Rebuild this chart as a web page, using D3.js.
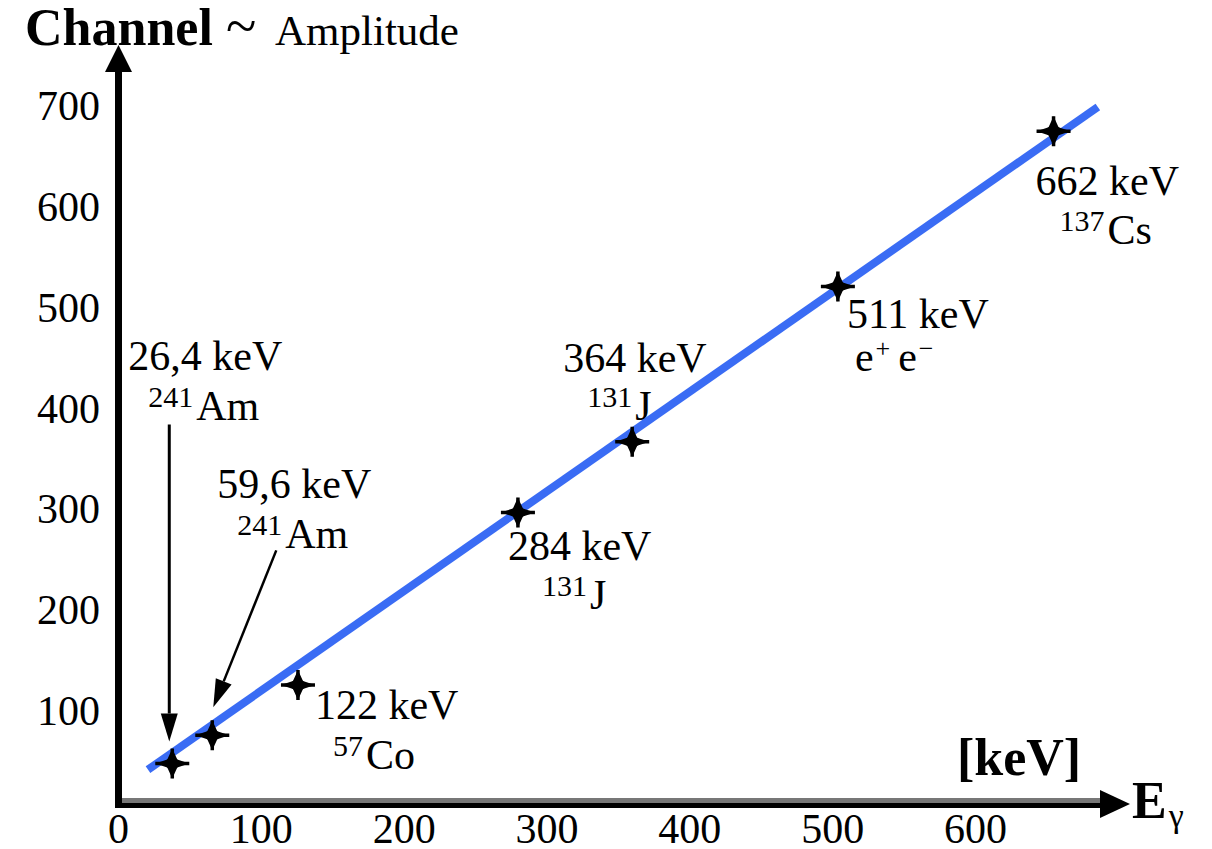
<!DOCTYPE html>
<html>
<head>
<meta charset="utf-8">
<script src="https://cdn.jsdelivr.net/npm/d3@7"></script>
<style>
  body { margin: 0; background: #fff; }
  svg { display: block; }
  text { font-family: "Liberation Serif", "Times New Roman", serif; fill: #000; }
</style>
</head>
<body>
<div id="chart"><svg></svg></div>
<script>
// calibration points (energy in keV, channel)
const energies = [38, 66, 126, 280, 360, 504, 655];
const channels = [48, 76, 126, 297, 367, 521, 675];
const energyLabels = ['26,4 keV', '59,6 keV', '122 keV', '284 keV', '364 keV', '511 keV', '662 keV'];
const massNumbers = ['241', '241', '57', '131', '131', '', '137'];
const isotopes = ['Am', 'Am', 'Co', 'J', 'J', 'e+e-', 'Cs'];

// fitted calibration line (end points)
const fitEnergy = [21, 686];
const fitChannel = [42, 699];

const xTicks = [0, 100, 200, 300, 400, 500, 600];
const yTicks = [100, 200, 300, 400, 500, 600, 700];

(function() {
  const width = 1212;
  const height = 849;
  const originX = 118;
  const axisY = 803;

  // label placement, relative to the point
  const labelOffsets = [[-44, -394], [5, -237], [17, 34], [-10, 48], [-69, -70], [9, 41], [-18, 64]];
  const line2Offsets = [[20, 50], [20, 50], [18, 50], [34, 49], [24, 48], [8, 43], [24, 49]];
  // pointer arrows for the two low-energy lines: [start dx, start dy, end dx, end dy]
  const pointers = {0: [-3, -339, -3, -22], 1: [64, -185, 1, -28]};

  const svg = d3.select('#chart svg')
    .attr('width', width)
    .attr('height', height);

  const x = d3.scaleLinear().domain([0, 600]).range([originX, 975]);
  const y = d3.scaleLinear().domain([0, 700]).range([812, 106]);

  function arrow(g, x1, y1, x2, y2, w, headLen, headW) {
    const a = Math.atan2(y2 - y1, x2 - x1);
    const bx = x2 - headLen * Math.cos(a);
    const by = y2 - headLen * Math.sin(a);
    g.append('line')
      .attr('x1', x1).attr('y1', y1)
      .attr('x2', bx).attr('y2', by)
      .attr('stroke', '#000')
      .attr('stroke-width', w);
    const px = Math.sin(a) * headW / 2;
    const py = -Math.cos(a) * headW / 2;
    g.append('path')
      .attr('d', 'M' + x2 + ',' + y2 + 'L' + (bx + px) + ',' + (by + py) + 'L' + (bx - px) + ',' + (by - py) + 'Z')
      .attr('fill', '#000');
  }

  // axes
  const axes = svg.append('g').attr('class', 'axes');
  axes.append('rect').attr('x', originX).attr('y', axisY - 5).attr('width', 985).attr('height', 5).attr('fill', '#777');
  axes.append('rect').attr('x', originX - 3).attr('y', axisY).attr('width', 988).attr('height', 5).attr('fill', '#000');
  arrow(axes, 1100, axisY + 1, 1130, axisY + 1, 0, 30, 28);
  arrow(axes, originX + 0.5, axisY + 5, originX + 0.5, 45, 7, 27, 27);

  const xAxis = svg.append('g')
    .attr('transform', 'translate(0,' + axisY + ')')
    .call(d3.axisBottom(x).tickValues(xTicks).tickSize(0).tickPadding(10));
  const yAxis = svg.append('g')
    .attr('transform', 'translate(' + originX + ',0)')
    .call(d3.axisLeft(y).tickValues(yTicks).tickSize(0).tickPadding(18));
  [xAxis, yAxis].forEach(function(g) {
    g.select('.domain').remove();
    g.attr('font-family', null).attr('font-size', null);
    g.selectAll('text').style('font-size', '42px').attr('fill', '#000');
  });

  // axis titles
  const title = svg.append('text').attr('x', 25).attr('y', 45);
  title.append('tspan').style('font-weight', 'bold').style('font-size', '52px').text('Channel');
  title.append('tspan').attr('x', 226).style('font-size', '56px').text('~');
  title.append('tspan').attr('x', 275).style('font-size', '43px').text('Amplitude');

  svg.append('text').attr('x', 957).attr('y', 775)
    .style('font-weight', 'bold').style('font-size', '52px').text('[keV]');
  const eg = svg.append('text').attr('x', 1132).attr('y', 818);
  eg.append('tspan').style('font-weight', 'bold').style('font-size', '52px').text('E');
  eg.append('tspan').attr('dx', 2).attr('dy', 9).style('font-size', '34px').text('γ');

  // calibration line
  const fit = fitEnergy.map(function(e, i) { return [e, fitChannel[i]]; });
  svg.append('path')
    .datum(fit)
    .attr('d', d3.line().x(function(d) { return x(d[0]); }).y(function(d) { return y(d[1]); }))
    .attr('stroke', '#3a6cf4')
    .attr('stroke-width', 8)
    .attr('fill', 'none');

  // points
  const points = energies.map(function(e, i) {
    return {e: e, c: channels[i], i: i};
  });
  const star = 'M-17,0L-5,-4L0,-15L5,-4L17,0L5,4L0,15L-5,4Z';
  const marks = svg.append('g').attr('class', 'points');
  marks.selectAll('g')
    .data(points)
    .enter()
    .append('g')
    .attr('transform', function(d) { return 'translate(' + x(d.e) + ',' + y(d.c) + ')'; })
    .each(function() {
      const g = d3.select(this);
      g.append('path').attr('d', 'M-17,0H17M0,-15V15').attr('stroke', '#000').attr('stroke-width', 3.5);
      g.append('path').attr('d', star).attr('fill', '#000');
      g.append('path').attr('d', 'M-10,0L0,-8L10,0L0,8Z').attr('fill', '#000');
    });

  // labels
  const labels = svg.append('g').attr('class', 'labels');
  points.forEach(function(d) {
    const px = x(d.e);
    const py = y(d.c);
    const lx = px + labelOffsets[d.i][0];
    const ly = py + labelOffsets[d.i][1];
    labels.append('text').attr('x', lx).attr('y', ly)
      .style('font-size', '42px').text(energyLabels[d.i]);

    const t = labels.append('text')
      .attr('x', lx + line2Offsets[d.i][0])
      .attr('y', ly + line2Offsets[d.i][1])
      .style('font-size', '42px');
    if (isotopes[d.i] === 'e+e-') {
      t.append('tspan').text('e');
      t.append('tspan').attr('dx', 2).attr('dy', -14).style('font-size', '26px').text('+');
      t.append('tspan').attr('dx', 8).attr('dy', 14).text('e');
      t.append('tspan').attr('dx', 2).attr('dy', -14).style('font-size', '26px').text('−');
    } else {
      t.append('tspan').attr('dy', -13).style('font-size', '30px').text(massNumbers[d.i]);
      t.append('tspan').attr('dx', 3).attr('dy', 13).text(isotopes[d.i]);
    }

    if (pointers[d.i]) {
      const p = pointers[d.i];
      arrow(labels, px + p[0], py + p[1], px + p[2], py + p[3], d.i === 0 ? 3 : 2.5, 28, 17);
    }
  });
})();
</script>
</body>
</html>
